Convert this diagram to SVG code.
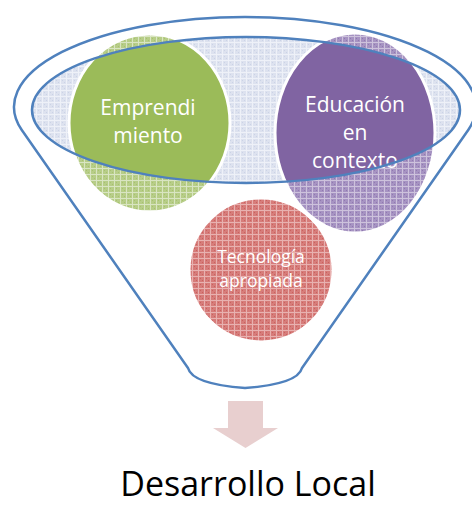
<svg xmlns="http://www.w3.org/2000/svg" width="472" height="505" viewBox="0 0 472 505">
  <defs>
    <pattern id="pBlue" width="6" height="6" patternUnits="userSpaceOnUse">
      <rect width="6" height="6" fill="#dde2ef"/>
      <rect x="2" y="2" width="1" height="1" fill="#cbd3e6"/>
      <rect x="4" y="4" width="1" height="1" fill="#cbd3e6"/>
      <path d="M0 0.5H6M0.5 0V6" stroke="#eef1f8" stroke-width="1"/>
    </pattern>
    <pattern id="pGreen" width="6" height="6" patternUnits="userSpaceOnUse">
      <rect width="6" height="6" fill="#b7cd88"/>
      <rect x="2" y="2" width="1" height="1" fill="#a7c26f"/>
      <rect x="4" y="4" width="1" height="1" fill="#a7c26f"/>
      <path d="M0 0.5H6M0.5 0V6" stroke="#d9e5c2" stroke-width="1"/>
    </pattern>
    <pattern id="pPurple" width="6" height="6" patternUnits="userSpaceOnUse">
      <rect width="6" height="6" fill="#a693c2"/>
      <rect x="2" y="2" width="1" height="1" fill="#9079b0"/>
      <rect x="4" y="4" width="1" height="1" fill="#9079b0"/>
      <path d="M0 0.5H6M0.5 0V6" stroke="#cdc2dc" stroke-width="1"/>
    </pattern>
    <pattern id="pRed" width="6" height="6" patternUnits="userSpaceOnUse">
      <rect width="6" height="6" fill="#d67c7a"/>
      <rect x="2" y="2" width="1" height="1" fill="#c9615e"/>
      <rect x="4" y="4" width="1" height="1" fill="#c9615e"/>
      <path d="M0 0.5H6M0.5 0V6" stroke="#e8b1b0" stroke-width="1"/>
    </pattern>
    <clipPath id="innerClip">
      <ellipse cx="246" cy="110" rx="214" ry="73"/>
    </clipPath>
  </defs>
  <style>
    .blue { fill: none; stroke: #4f81bd; stroke-width: 2.5; }
    .ring { stroke: #ffffff; stroke-width: 3; }
    .lbl { font-family: "Open Sans", "Noto Sans", sans-serif; fill: #ffffff; text-anchor: middle; }
  </style>

  <g id="funnel-top">
    <ellipse cx="246" cy="110" rx="214" ry="73" fill="url(#pBlue)"/>
  </g>

  <g id="tecnologia">
    <ellipse cx="261" cy="270" rx="72" ry="72" fill="url(#pRed)" class="ring"/>
    <text class="lbl" font-size="17.5" x="261" y="263">Tecnología</text>
    <text class="lbl" font-size="17.5" x="261" y="287">apropiada</text>
  </g>

  <g id="emprendimiento">
    <ellipse cx="149.5" cy="123" rx="80.5" ry="89" fill="url(#pGreen)"/>
    <ellipse cx="149.5" cy="123" rx="80.5" ry="89" fill="#9bbb59" clip-path="url(#innerClip)"/>
    <ellipse cx="149.5" cy="123" rx="80.5" ry="89" fill="none" class="ring"/>
    <text class="lbl" font-size="21" x="148" y="115">Emprendi</text>
    <text class="lbl" font-size="21" x="148" y="143">miento</text>
  </g>

  <g id="educacion">
    <ellipse cx="355" cy="133" rx="80" ry="100" fill="url(#pPurple)"/>
    <ellipse cx="355" cy="133" rx="80" ry="100" fill="#8064a2" clip-path="url(#innerClip)"/>
    <ellipse cx="355" cy="133" rx="80" ry="100" fill="none" class="ring"/>
    <text class="lbl" font-size="21" x="355" y="112">Educación</text>
    <text class="lbl" font-size="21" x="355" y="140">en</text>
    <text class="lbl" font-size="21" x="355" y="168">contexto</text>
  </g>

  <g id="funnel">
    <ellipse cx="246" cy="110" rx="214" ry="73" class="blue"/>
    <path class="blue" d="M21.6 129.8 A231 90 0 1 1 468.4 129.8 L302 368 Q298 384 245 388 Q192 384 188 368 Z"/>
  </g>

  <g id="connectors">
    <polygon points="228,401 263,401 263,428 278,428 245.5,448 213,428 228,428" fill="#e8cfcf"/>
  </g>

  <g id="desarrollo-local">
    <text x="248" y="496" font-family="Open Sans, Noto Sans, sans-serif" font-size="34" fill="#000000" text-anchor="middle">Desarrollo Local</text>
  </g>
</svg>
